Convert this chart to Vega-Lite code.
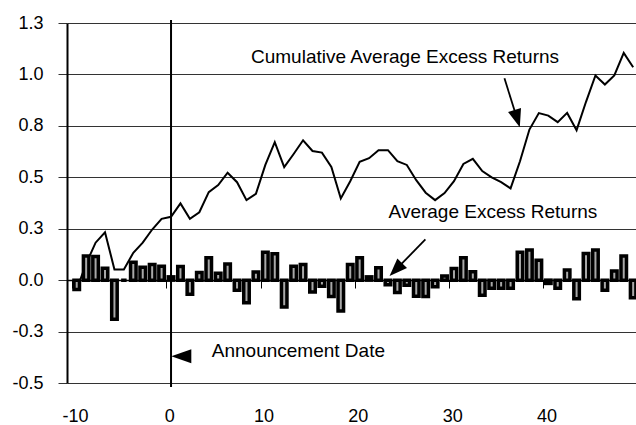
{
  "$schema": "https://vega.github.io/schema/vega-lite/v6.json",
  "width": 569,
  "height": 360,
  "autosize": {"type": "none"},
  "padding": {"left": 67, "top": 23, "right": 0, "bottom": 42},
  "background": "white",
  "config": {
    "view": {"stroke": null},
    "font": "Liberation Sans",
    "text": {"font": "Liberation Sans"}
  },
  "datasets": {
    "returns": [
      {"t": -10, "ar": -0.046, "car": -0.046},
      {"t": -9, "ar": 0.117, "car": 0.08},
      {"t": -8, "ar": 0.115, "car": 0.182},
      {"t": -7, "ar": 0.058, "car": 0.233},
      {"t": -6, "ar": -0.19, "car": 0.052},
      {"t": -5, "ar": 0.0, "car": 0.052},
      {"t": -4, "ar": 0.087, "car": 0.133},
      {"t": -3, "ar": 0.063, "car": 0.182},
      {"t": -2, "ar": 0.076, "car": 0.246},
      {"t": -1, "ar": 0.068, "car": 0.298},
      {"t": 0, "ar": 0.016, "car": 0.308},
      {"t": 1, "ar": 0.066, "car": 0.373},
      {"t": 2, "ar": -0.069, "car": 0.298},
      {"t": 3, "ar": 0.037, "car": 0.33},
      {"t": 4, "ar": 0.109, "car": 0.428},
      {"t": 5, "ar": 0.033, "car": 0.462},
      {"t": 6, "ar": 0.078, "car": 0.522},
      {"t": 7, "ar": -0.049, "car": 0.476},
      {"t": 8, "ar": -0.11, "car": 0.389},
      {"t": 9, "ar": 0.039, "car": 0.42},
      {"t": 10, "ar": 0.136, "car": 0.56},
      {"t": 11, "ar": 0.128, "car": 0.671},
      {"t": 12, "ar": -0.131, "car": 0.549},
      {"t": 13, "ar": 0.068, "car": 0.613},
      {"t": 14, "ar": 0.076, "car": 0.68},
      {"t": 15, "ar": -0.058, "car": 0.628},
      {"t": 16, "ar": -0.03, "car": 0.62},
      {"t": 17, "ar": -0.08, "car": 0.55},
      {"t": 18, "ar": -0.15, "car": 0.397},
      {"t": 19, "ar": 0.076, "car": 0.481},
      {"t": 20, "ar": 0.109, "car": 0.575},
      {"t": 21, "ar": 0.016, "car": 0.593},
      {"t": 22, "ar": 0.06, "car": 0.632},
      {"t": 23, "ar": -0.022, "car": 0.632},
      {"t": 24, "ar": -0.06, "car": 0.578},
      {"t": 25, "ar": -0.025, "car": 0.56},
      {"t": 26, "ar": -0.078, "car": 0.486},
      {"t": 27, "ar": -0.08, "car": 0.425},
      {"t": 28, "ar": -0.032, "car": 0.389},
      {"t": 29, "ar": 0.02, "car": 0.423},
      {"t": 30, "ar": 0.057, "car": 0.481},
      {"t": 31, "ar": 0.109, "car": 0.565},
      {"t": 32, "ar": 0.041, "car": 0.59},
      {"t": 33, "ar": -0.073, "car": 0.53},
      {"t": 34, "ar": -0.04, "car": 0.5},
      {"t": 35, "ar": -0.04, "car": 0.476},
      {"t": 36, "ar": -0.04, "car": 0.446},
      {"t": 37, "ar": 0.136, "car": 0.578},
      {"t": 38, "ar": 0.146, "car": 0.732},
      {"t": 39, "ar": 0.097, "car": 0.812},
      {"t": 40, "ar": -0.016, "car": 0.8},
      {"t": 41, "ar": -0.04, "car": 0.768},
      {"t": 42, "ar": 0.049, "car": 0.813},
      {"t": 43, "ar": -0.09, "car": 0.729},
      {"t": 44, "ar": 0.13, "car": 0.867},
      {"t": 45, "ar": 0.146, "car": 0.995},
      {"t": 46, "ar": -0.049, "car": 0.951},
      {"t": 47, "ar": 0.045, "car": 0.995},
      {"t": 48, "ar": 0.117, "car": 1.105},
      {"t": 49, "ar": -0.085, "car": 1.035}
    ]
  },
  "layer": [
    {
      "data": {"name": "returns"},
      "mark": {"type": "line", "color": "black", "strokeWidth": 2, "clip": true},
      "encoding": {
        "x": {
          "field": "t", "type": "quantitative",
          "scale": {"domain": [-10.5, 48.77], "nice": false, "zero": false},
          "axis": {
            "orient": "bottom",
            "offset": -103,
            "values": [-10, 0, 10, 20, 30, 40],
            "tickOffset": -4.8,
            "labelOffset": 3,
            "tickSize": 8,
            "tickColor": "black",
            "tickWidth": 1,
            "domainColor": "black",
            "domainWidth": 1.5,
            "grid": false,
            "labelBaseline": "alphabetic",
            "labelPadding": 133,
            "labelFontSize": 18,
            "labelFont": "Liberation Sans",
            "labelColor": "black",
            "labelFlush": false,
            "labelOverlap": false,
            "labelExpr": "(datum.value < 0 ? '-' : '') + format(abs(datum.value), 'd')",
            "title": null
          }
        },
        "y": {
          "field": "car", "type": "quantitative",
          "scale": {"domain": [-0.5, 1.25], "nice": false, "zero": false},
          "axis": {
            "values": [-0.5, -0.25, 0, 0.25, 0.5, 0.75, 1, 1.25],
            "grid": true,
            "gridColor": "#333333",
            "gridWidth": 1,
            "domainColor": "black",
            "domainWidth": 2,
            "tickColor": "#333333",
            "tickSize": 9,
            "labelPadding": 15,
            "labelFontSize": 18,
            "labelFont": "Liberation Sans",
            "labelColor": "black",
            "labelOverlap": false,
            "labelFlush": false,
            "labelExpr": "(datum.value < 0 ? '-' : '') + format(abs(datum.value), '.1f')",
            "title": null
          }
        }
      }
    },
    {
      "data": {"name": "returns"},
      "mark": {"type": "bar", "size": 5.5, "fill": "#a8a8a8", "stroke": "black", "strokeWidth": 3.5, "clip": true},
      "encoding": {
        "x": {"field": "t", "type": "quantitative"},
        "y": {"field": "ar", "type": "quantitative"}
      }
    },
    {
      "data": {"values": [{}]},
      "mark": {"type": "rule", "color": "black", "strokeWidth": 2},
      "encoding": {"x": {"datum": 0}, "y": {"datum": 1.265}, "y2": {"datum": -0.52}}
    },
    {
      "data": {"values": [{}]},
      "mark": {"type": "point", "shape": "M-1,0L1,-0.7L1,0.7Z", "size": 400, "filled": true, "color": "black", "opacity": 1},
      "encoding": {"x": {"datum": 1.09}, "y": {"datum": -0.37}}
    },
    {
      "data": {"values": [{}]},
      "mark": {"type": "text", "align": "left", "baseline": "alphabetic", "fontSize": 19, "font": "Liberation Sans", "color": "black"},
      "encoding": {"x": {"datum": 4.32}, "y": {"datum": -0.375}, "text": {"value": "Announcement Date"}}
    },
    {
      "data": {"values": [{}]},
      "mark": {"type": "text", "align": "center", "baseline": "alphabetic", "fontSize": 19, "font": "Liberation Sans", "color": "black"},
      "encoding": {"x": {"datum": 24.81}, "y": {"datum": 1.057}, "text": {"value": "Cumulative Average Excess Returns"}}
    },
    {
      "data": {"values": [{}]},
      "mark": {"type": "text", "align": "center", "baseline": "alphabetic", "fontSize": 19, "font": "Liberation Sans", "color": "black"},
      "encoding": {"x": {"datum": 34.13}, "y": {"datum": 0.3}, "text": {"value": "Average Excess Returns"}}
    },
    {
      "data": {"values": [{}]},
      "mark": {"type": "rule", "color": "black", "strokeWidth": 1.8},
      "encoding": {"x": {"datum": 35.35}, "y": {"datum": 0.981}, "x2": {"datum": 36.7}, "y2": {"datum": 0.785}}
    },
    {
      "data": {"values": [{}]},
      "mark": {"type": "point", "shape": "M1,0L-1,-0.75L-1,0.75Z", "size": 324, "angle": 73, "filled": true, "color": "black", "opacity": 1},
      "encoding": {"x": {"datum": 36.7}, "y": {"datum": 0.785}}
    },
    {
      "data": {"values": [{}]},
      "mark": {"type": "rule", "color": "black", "strokeWidth": 1.8},
      "encoding": {"x": {"datum": 26.97}, "y": {"datum": 0.198}, "x2": {"datum": 23.84}, "y2": {"datum": 0.051}}
    },
    {
      "data": {"values": [{}]},
      "mark": {"type": "point", "shape": "M1,0L-1,-0.75L-1,0.75Z", "size": 324, "angle": 134.4, "filled": true, "color": "black", "opacity": 1},
      "encoding": {"x": {"datum": 23.84}, "y": {"datum": 0.051}}
    }
  ]
}
